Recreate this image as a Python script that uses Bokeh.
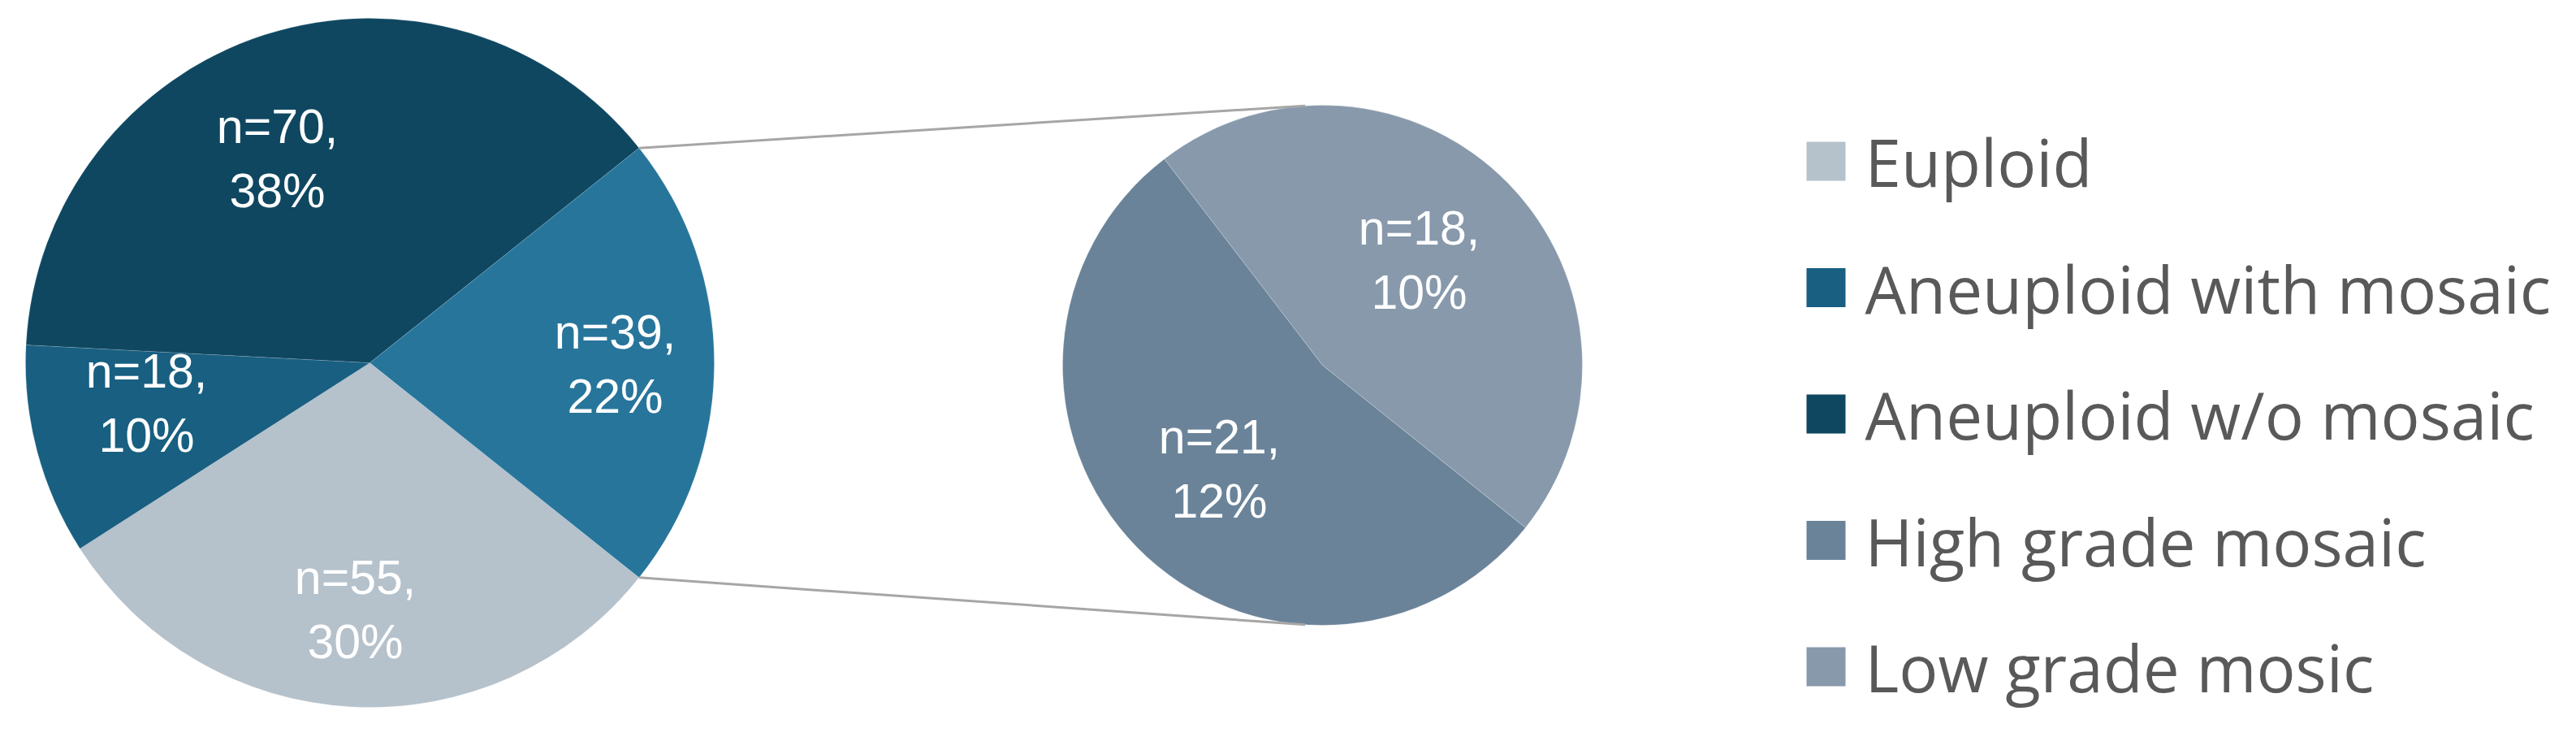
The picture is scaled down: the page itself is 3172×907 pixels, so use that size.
import math
from bokeh.plotting import figure
from bokeh.models import Range1d, ColumnDataSource
from bokeh.core.properties import value
from bokeh.embed import file_html
from bokeh.resources import INLINE

# ---------------- data ----------------
main_categories = ["Euploid", "Aneuploid with mosaic", "Aneuploid w/o mosaic", "Mosaic"]
main_counts = [55, 18, 70, 39]
main_pct_labels = ["30%", "10%", "38%", "22%"]

sub_categories = ["Low grade mosic", "High grade mosaic"]
sub_counts = [18, 21]
sub_pct_labels = ["10%", "12%"]

legend_labels = ["Euploid", "Aneuploid with mosaic", "Aneuploid w/o mosaic",
                 "High grade mosaic", "Low grade mosic"]

# ---------------- styles ----------------
colors = {
    "Euploid": "#b5c1cb",
    "Aneuploid with mosaic": "#185f81",
    "Aneuploid w/o mosaic": "#0f4761",
    "Mosaic": "#27759b",
    "High grade mosaic": "#6a8399",
    "Low grade mosic": "#8799ab",
}

IMG_W, IMG_H, MARGIN = 3172, 907, 8
FW, FH = IMG_W - 2 * MARGIN, IMG_H - 2 * MARGIN - 1
TEXT_SHIFT = 24              # compensates the text box offset of the renderer


def Y(y_img):
    return IMG_H - y_img


# layout
BIG_C = (455, 446)
BIG_R = 424
SUB_C = (1628, 449)
SUB_R = 320
SUB_START_DEG = 127.5        # where the first secondary slice begins (clockwise)
CONNECT_DEG = 3.8            # connector end offset from the top/bottom of secondary pie
LINE_GAP = 39.5              # half the distance between the two label lines
big_label_off = [(-18, 327.5), (-275, 73.5), (-114, -227.5), (302, 25.5)]
sub_label_off = [(119, -105), (-127, 152)]
LEG_X, LEG_Y0, LEG_DY, LEG_SQ = 2248, 198, 155.5, 48

p = figure(frame_width=FW, frame_height=FH, title=None,
           x_range=Range1d(0, FW), y_range=Range1d(IMG_H - FH, IMG_H),
           output_backend="svg", toolbar_location=None,
           x_axis_type=None, y_axis_type=None, min_border=0,
           outline_line_color=None, background_fill_color="white", border_fill_color="white")

# ---------------- main pie ----------------
total = sum(main_counts)
spans = [c / total * 2 * math.pi for c in main_counts]
other_half = spans[3] / 2
starts, ends = [], []
cur = -other_half
for s in spans[:3]:
    ends.append(cur)
    starts.append(cur - s)
    cur = cur - s
starts.append(-other_half)
ends.append(other_half)

src_main = ColumnDataSource(dict(
    x=[BIG_C[0]] * 4, y=[Y(BIG_C[1])] * 4,
    start=starts, end=ends, color=[colors[c] for c in main_categories]))
p.wedge(x="x", y="y", radius=BIG_R, start_angle="start", end_angle="end",
        fill_color="color", line_color="white", line_width=1, line_alpha=0.15,
        direction="anticlock", source=src_main)

# ---------------- secondary pie ----------------
sub_total = sum(sub_counts)
sub_spans = [c / sub_total * 2 * math.pi for c in sub_counts]
s_starts, s_ends = [], []
cur = math.radians(SUB_START_DEG)
for s in sub_spans:
    s_ends.append(cur)
    s_starts.append(cur - s)
    cur = cur - s
src_sub = ColumnDataSource(dict(
    x=[SUB_C[0]] * 2, y=[Y(SUB_C[1])] * 2,
    start=s_starts, end=s_ends, color=[colors[c] for c in sub_categories]))
p.wedge(x="x", y="y", radius=SUB_R, start_angle="start", end_angle="end",
        fill_color="color", line_color="white", line_width=1, line_alpha=0.25,
        direction="anticlock", source=src_sub)

# ---------------- connector lines ----------------
ca = math.radians(90 + CONNECT_DEG)
for sign in (1, -1):
    x0 = BIG_C[0] + BIG_R * math.cos(sign * other_half)
    y0 = Y(BIG_C[1]) + BIG_R * math.sin(sign * other_half)
    x1 = SUB_C[0] + SUB_R * math.cos(sign * ca)
    y1 = Y(SUB_C[1]) + SUB_R * math.sin(sign * ca)
    p.line([x0, x1], [y0, y1], line_color="#a6a6a6", line_width=3)

# ---------------- data labels ----------------
lx, ly, lt = [], [], []
for (dx, dy), n, pct in zip(big_label_off, main_counts, main_pct_labels):
    cx, cy = BIG_C[0] + dx, BIG_C[1] + dy - TEXT_SHIFT
    lx += [cx, cx]
    ly += [Y(cy - LINE_GAP), Y(cy + LINE_GAP)]
    lt += [f"n={n},", pct]
for (dx, dy), n, pct in zip(sub_label_off, sub_counts, sub_pct_labels):
    cx, cy = SUB_C[0] + dx, SUB_C[1] + dy - TEXT_SHIFT
    lx += [cx, cx]
    ly += [Y(cy - LINE_GAP), Y(cy + LINE_GAP)]
    lt += [f"n={n},", pct]
p.text(x=lx, y=ly, text=lt, text_color="white", text_align="center",
       text_baseline="alphabetic", text_font=value("Liberation Sans"),
       text_font_size=value("59px"))

# ---------------- legend ----------------
leg_y = [LEG_Y0 + i * LEG_DY for i in range(len(legend_labels))]
p.rect(x=[LEG_X] * len(legend_labels), y=[Y(v) for v in leg_y],
       width=LEG_SQ, height=LEG_SQ, fill_color=[colors[c] for c in legend_labels],
       line_color=None)
p.text(x=[LEG_X + LEG_SQ / 2 + 24] * len(legend_labels),
       y=[Y(v + LEG_SQ / 2 - TEXT_SHIFT) for v in leg_y], text=legend_labels,
       text_color="#595959", text_align="left", text_baseline="alphabetic",
       text_font=value("Open Sans"), text_font_size=value("80px"))

open("out.html", "w").write(file_html(p, INLINE))
